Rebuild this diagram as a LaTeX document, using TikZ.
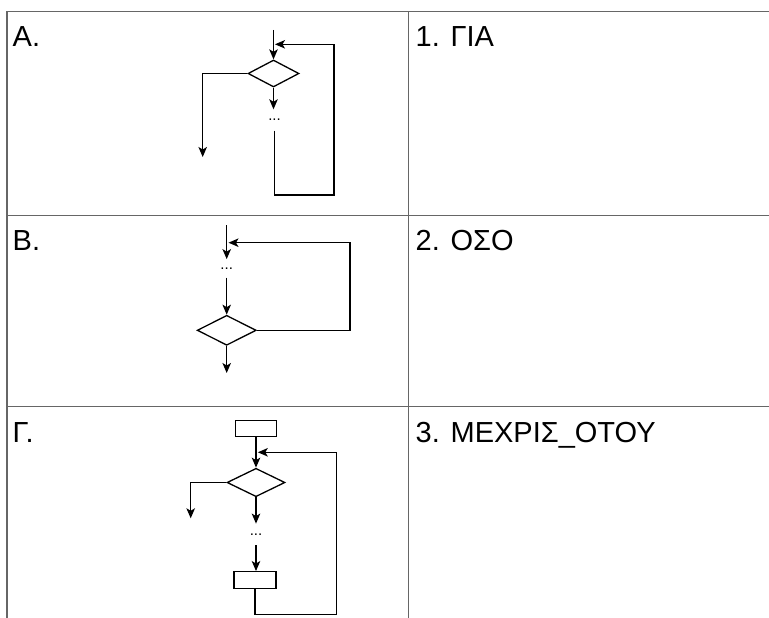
\documentclass[tikz,border=0pt]{standalone}
\usepackage{fontspec}
\setmainfont{Liberation Sans}
\usetikzlibrary{shapes.geometric, arrows.meta, positioning}

\begin{document}
\begin{tikzpicture}[x=1pt, y=-1pt,
    font=\fontsize{29}{34}\selectfont,
    grid/.style={draw=black!60, line width=1.1pt},
    label/.style={anchor=base west, inner sep=0pt},
    dec/.style={draw, diamond, line width=1.3pt, inner sep=0pt},
    stm/.style={draw, rectangle, line width=1.3pt, inner sep=0pt},
    dots/.style={inner sep=0pt, font=\fontsize{15}{17}\selectfont},
    arrow/.style={-{Stealth[length=10pt, width=8.5pt, inset=2.5pt]}, line width=1.3pt},
    line/.style={line width=1.3pt}
]
    \useasboundingbox (0,0) rectangle (769,618);

    % table
    \draw[grid] (7,618) -- (7,11.5) -- (769,11.5);
    \draw[grid] (408.7,11.5) -- (408.7,618);
    \draw[grid] (7,215.3) -- (769,215.3);
    \draw[grid] (7,406.3) -- (769,406.3);

    \node[label] (ta) at (12.5,46.7) {A.};
    \node[label] (tb) at (12.5,250) {B.};
    \node[label] (tg) at (12.5,442) {Γ.};
    \node[label] (t1) at (415.5,46.7) {1. ΓΙΑ};
    \node[label] (t2) at (415.5,250) {2. ΟΣΟ};
    \node[label] (t3) at (415.5,442) {3. ΜΕΧΡΙΣ\_ΟΤΟΥ};

    % A
    \coordinate (a-in) at (273.5,30);
    \node[dec, minimum width=51pt, minimum height=27pt] (a-dec) at (273.5,73.5) {};
    \node[dots, minimum height=21pt] (a-dots) at (274.5,120) {...};
    \coordinate (a-out) at (202.7,157);
    \coordinate (a-loop) at (334,195);
    \coordinate (a-join) at (275,44.3);
    \draw[arrow] (a-in) -- (a-dec.north);
    \draw[arrow] (a-dec.south) -- (a-dec.south |- a-dots.north);
    \draw[arrow] (a-dec.west) -| (a-out);
    \draw[arrow] (a-dots.south) |- (a-loop) |- (a-join);

    % B
    \coordinate (b-in) at (226.7,225);
    \node[dots, minimum height=18pt] (b-dots) at (226.7,268.3) {...};
    \node[dec, minimum width=59pt, minimum height=30pt] (b-dec) at (226.7,330.3) {};
    \coordinate (b-out) at (226.7,373);
    \coordinate (b-loop) at (350,242.7);
    \coordinate (b-join) at (228.5,242.7);
    \draw[arrow] (b-in) -- (b-dots.north);
    \draw[arrow] (b-dots.south) -- (b-dec.north);
    \draw[arrow] (b-dec.south) -- (b-out);
    \draw[arrow] (b-dec.east) -| (b-loop) -- (b-join);

    % Γ
    \node[stm, minimum width=41pt, minimum height=16pt] (g-init) at (256,428.7) {};
    \node[dec, minimum width=58pt, minimum height=28.4pt] (g-dec) at (256,482.5) {};
    \node[dots, minimum height=21pt] (g-dots) at (256,534.3) {...};
    \node[stm, minimum width=42pt, minimum height=17pt] (g-body) at (255,580.2) {};
    \coordinate (g-out) at (190.7,518.3);
    \coordinate (g-loop) at (336.7,614.7);
    \coordinate (g-join) at (257.8,452.3);
    \draw[arrow] (g-init.south) -- (g-dec.north);
    \draw[arrow] (g-dec.west) -| (g-out);
    \draw[arrow] (g-dec.south) -- (g-dots.north);
    \draw[arrow] (g-dots.south) -- (g-dots.south |- g-body.north);
    \draw[arrow] (g-body.south) |- (g-loop) |- (g-join);
\end{tikzpicture}
\end{document}
